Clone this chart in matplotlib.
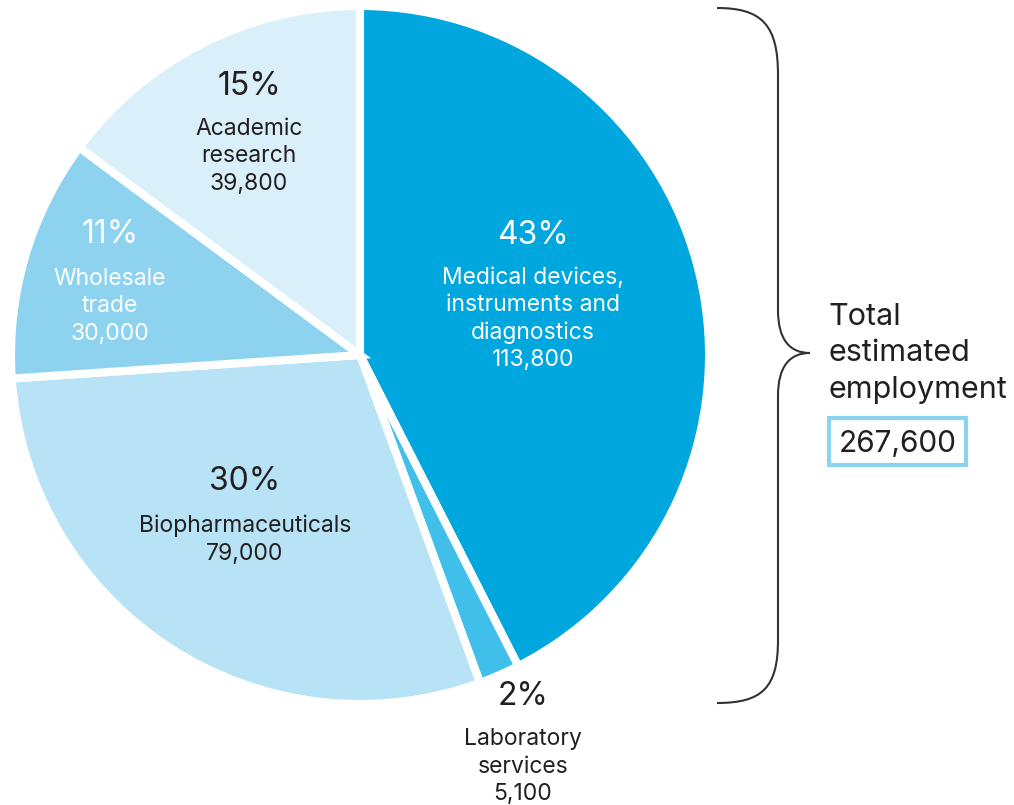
import matplotlib
matplotlib.use("Agg")
import matplotlib.pyplot as plt
from matplotlib.path import Path
from matplotlib.patches import PathPatch, Rectangle

# Employment by sector (clockwise from 12 o'clock)
sectors = ["Medical devices,\ninstruments and\ndiagnostics", "Laboratory\nservices",
           "Biopharmaceuticals", "Wholesale\ntrade", "Academic\nresearch"]
employment = [113800, 5100, 79000, 30000, 39800]
colors = ["#00A6DE", "#3FBFEA", "#B8E2F5", "#8DD3F0", "#D9EFF9"]
total_label = "267,600"
total_title = ["Total", "estimated", "employment"]

W, H = 1014, 805
fig = plt.figure(figsize=(W / 100, H / 100), dpi=100)
ax = fig.add_axes([0, 0, 1, 1])

FONT = "Inter"
TXT = "#231F20"


def Y(py):
    return H - py


cx, cy, r = 360, 355, 349
ax.pie(employment, colors=colors, startangle=90, counterclock=False,
       center=(cx, Y(cy)), radius=r, frame=True,
       wedgeprops=dict(edgecolor="white", linewidth=5.8))
ax.set_xlim(0, W)
ax.set_ylim(0, H)
ax.set_aspect("equal")
ax.axis("off")

total = sum(employment)
pcts = [f"{round(v / total * 100)}%" for v in employment]

# label layout: x centre, baseline of percent, first text baseline, text colour
layout = [
    (533, 244, 284, "white"),
    (523, 705, 745, TXT),
    (245, 490, 532, TXT),
    (110, 243, 285, "white"),
    (249, 95, 135, TXT),
]
step = 27.5
for name, val, pct, (x, yp, yt, col) in zip(sectors, employment, pcts, layout):
    ax.text(x, Y(yp), pct, ha="center", va="baseline", fontsize=23,
            family=FONT, color=col)
    lines = name.split("\n") + [f"{val:,}"]
    for i, ln in enumerate(lines):
        ax.text(x, Y(yt + i * step), ln, ha="center", va="baseline",
                fontsize=16.5, family=FONT, color=col)

# curly brace spanning the whole pie
bx, tipx, tipy, lx = 778, 810, 353, 717
verts = [
    (lx, 8), (762, 8), (bx, 25), (bx, 75),
    (bx, 310),
    (bx, 340), (790, 353), (tipx, tipy),
    (790, 353), (bx, 366), (bx, 396),
    (bx, 640),
    (bx, 688), (762, 703), (lx, 703),
]
codes = [Path.MOVETO, Path.CURVE4, Path.CURVE4, Path.CURVE4,
         Path.LINETO,
         Path.CURVE4, Path.CURVE4, Path.CURVE4,
         Path.CURVE4, Path.CURVE4, Path.CURVE4,
         Path.LINETO,
         Path.CURVE4, Path.CURVE4, Path.CURVE4]
verts = [(x, Y(y)) for x, y in verts]
ax.add_patch(PathPatch(Path(verts, codes), facecolor="none",
                       edgecolor="#333333", linewidth=1.5))

for i, t in enumerate(total_title):
    ax.text(829, Y(325 + i * 36.5), t, ha="left", va="baseline",
            fontsize=22, family=FONT, color=TXT)

ax.add_patch(Rectangle((829, Y(465)), 137, 47, facecolor="white",
                       edgecolor="#8DD3EE", linewidth=3))
ax.text(897.5, Y(452), total_label, ha="center", va="baseline",
        fontsize=21.5, family=FONT, color=TXT)

fig.savefig("out.png", dpi=100, facecolor="white")
